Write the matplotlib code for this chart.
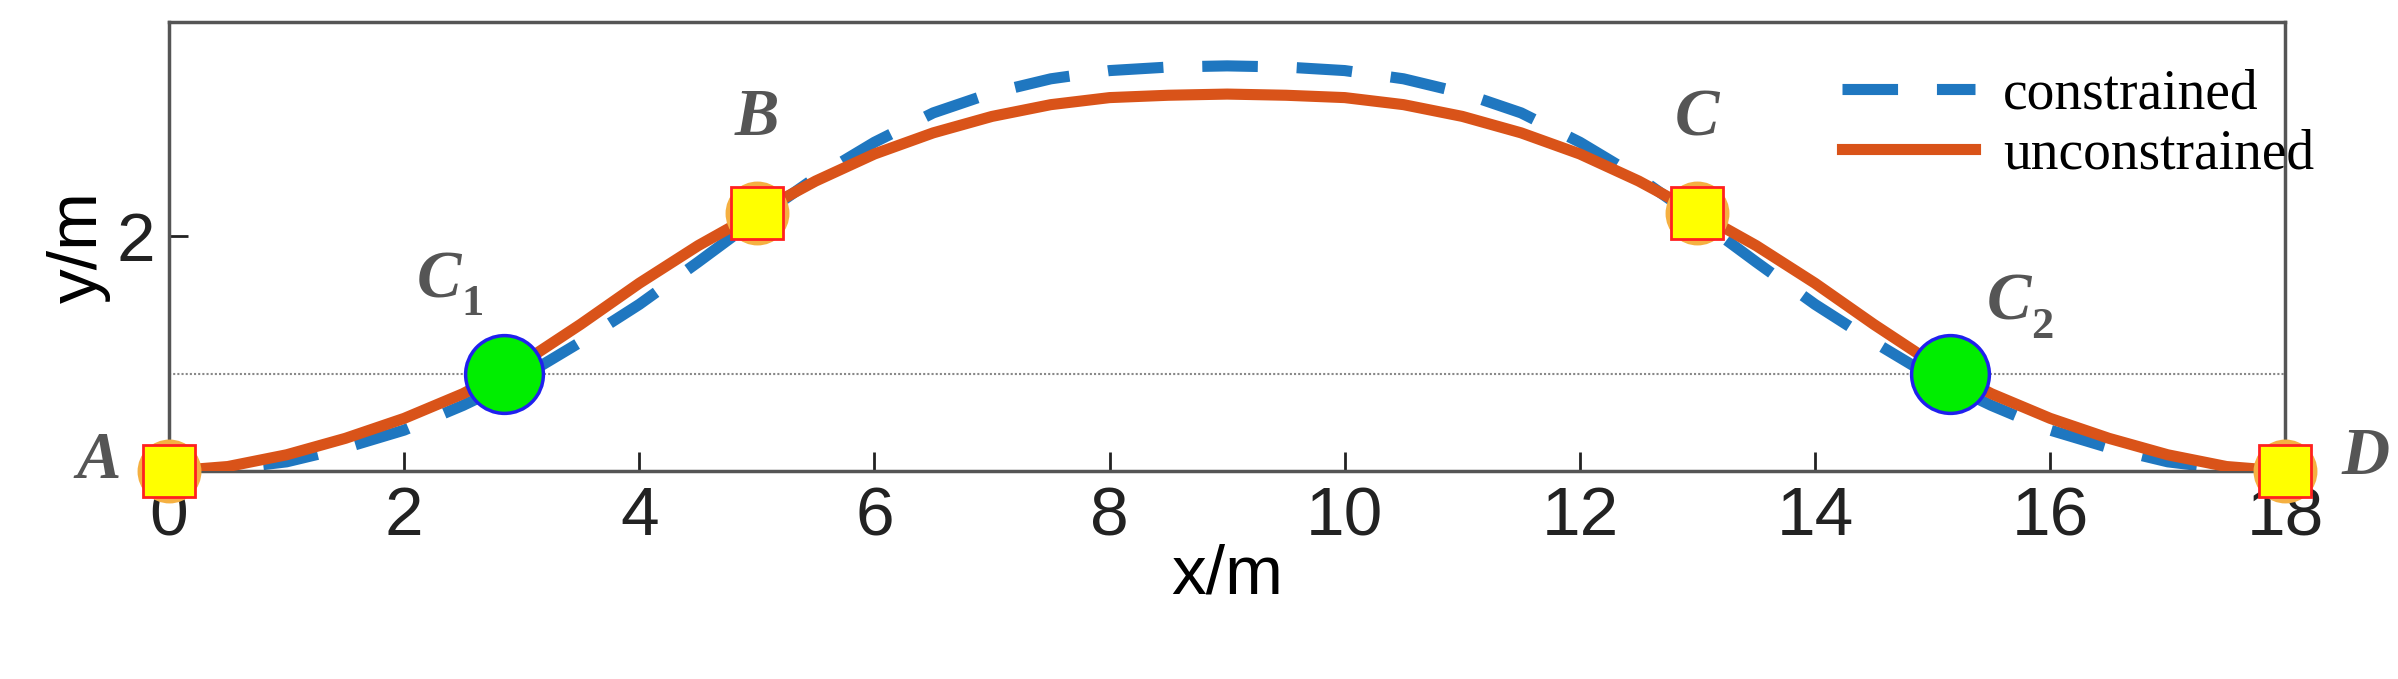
import matplotlib
matplotlib.use("Agg")
import matplotlib.pyplot as plt

x = [0, 0.5, 1, 1.5, 2, 2.5, 3, 3.5, 4, 4.5, 5, 5.5, 6, 6.5, 7, 7.5, 8, 8.5, 9,
     9.5, 10, 10.5, 11, 11.5, 12, 12.5, 13, 13.5, 14, 14.5, 15, 15.5, 16, 16.5, 17, 17.5, 18]
half_unc = [0, 0.04, 0.14, 0.28, 0.45, 0.66, 0.92, 1.25, 1.60, 1.92, 2.20, 2.47, 2.70, 2.88, 3.02, 3.12, 3.18, 3.20, 3.21]
half_con = [0, 0.02, 0.08, 0.20, 0.35, 0.56, 0.80, 1.10, 1.42, 1.78, 2.15, 2.50, 2.80, 3.05, 3.22, 3.34, 3.41, 3.44, 3.45]
unconstrained = half_unc + half_unc[-2::-1]
constrained = half_con + half_con[-2::-1]

sq_x = [0, 5, 13, 18]
sq_y = [0, 2.20, 2.20, 0]
circ_x = [2.85, 15.15]
circ_y = [0.83, 0.83]
ref_y = 0.83

labels = ["A", "B", "C", "D"]
label_pos = [(-0.6, 0.08), (5.0, 3.0), (13.0, 3.0), (18.68, 0.12)]
sub_labels = [("C", "1", 2.3, 1.62, 2.58, 1.42), ("C", "2", 15.65, 1.43, 15.93, 1.23)]

fig = plt.figure(figsize=(23.98, 6.79), dpi=100)
ax = fig.add_axes([0.0705, 0.306, 0.8825, 0.661])
ax.set_xlim(0, 18)
ax.set_ylim(0, 3.82)

ax.axhline(ref_y, color="#888888", lw=1.5, ls=(0, (1, 1)), zorder=1)
ax.plot(x, constrained, color="#1f77c0", lw=8, ls=(0, (5, 3.5)), label="constrained", zorder=2)
ax.plot(x, unconstrained, color="#d95319", lw=8, label="unconstrained", zorder=3)
ax.plot(sq_x, sq_y, ls="none", marker="o", ms=46, mfc="#f5b041", mec="none", zorder=4, clip_on=False)
ax.plot(sq_x, sq_y, ls="none", marker="s", ms=37, mfc="#ffff00", mec="#ff2020", mew=2, zorder=5, clip_on=False)
ax.plot(circ_x, circ_y, ls="none", marker="o", ms=56, mfc="#00ee00", mec="#2020ee", mew=2.5, zorder=5)

lf = dict(family="Liberation Serif", style="italic", weight="bold", color="#555555")
for lab, (lx, ly) in zip(labels, label_pos):
    ax.text(lx, ly, lab, ha="center", va="center", clip_on=False, fontsize=48, **lf)
for m, s, lx, ly, sx, sy in sub_labels:
    ax.text(lx, ly, m, ha="center", va="center", fontsize=48, **lf)
    ax.text(sx, sy, s, ha="center", va="center", fontsize=32,
            family="Liberation Serif", weight="bold", color="#555555")

ax.set_xticks(range(0, 19, 2))
ax.set_yticks([2])
ax.tick_params(direction="in", length=14, width=2, labelsize=50, pad=10, colors="#222222")
for s in ax.spines.values():
    s.set_color("#555555")
    s.set_linewidth(2.5)
for t in ax.get_xticklabels() + ax.get_yticklabels():
    t.set_family("Liberation Sans")
ax.set_xlabel("x/m", fontsize=50, family="Liberation Sans", labelpad=-4)
ax.set_ylabel("y/m", fontsize=50, family="Liberation Sans", labelpad=4)

leg = ax.legend(loc="upper left", bbox_to_anchor=(0.772, 0.985), frameon=False,
                prop={"family": "Liberation Serif", "size": 40}, handlelength=2.4,
                handletextpad=0.5, labelspacing=0.15, borderaxespad=0.3)
fig.savefig("out.png", dpi=100)
